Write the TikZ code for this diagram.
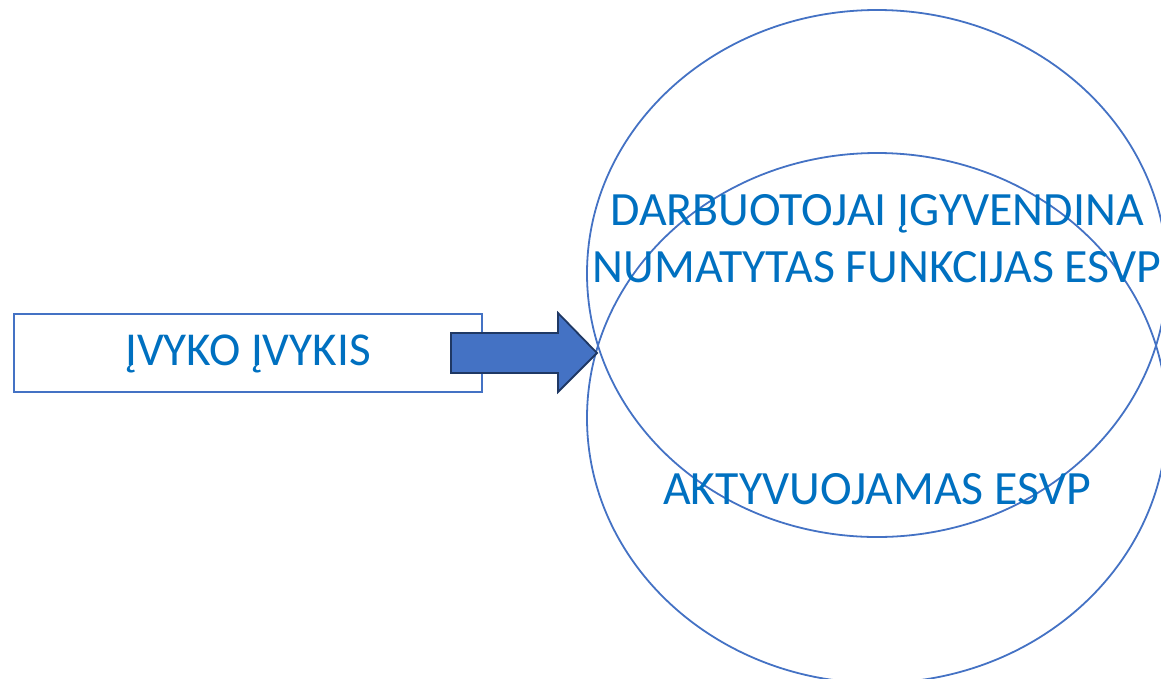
\documentclass[tikz,border=0pt]{standalone}
\usepackage{fontspec}
\setmainfont{Carlito}
\usepackage{tikz}

\definecolor{txtblue}{HTML}{0070C0}
\definecolor{lineblue}{HTML}{4472C4}
\definecolor{darkblue}{HTML}{1F3864}

\begin{document}
\begin{tikzpicture} [x=1pt, y=-1pt]

\useasboundingbox (0,0) rectangle (1161,678);

\tikzset{
  ring/.style={draw=lineblue, line width=1.8pt},
  label text/.style={text=txtblue, font=\fontsize{47.8}{56.7}\selectfont, align=center, anchor=base}
}

\coordinate (upper) at (877,273.5);
\coordinate (lower) at (877,418);

\draw [ring] (upper) ellipse [x radius=290pt, y radius=263.5pt];
\draw [ring] (lower) ellipse [x radius=290pt, y radius=265pt];

\node [draw=lineblue, line width=1.3pt, minimum width=468pt, minimum height=78pt,
       text height=30pt, text depth=6pt, inner sep=0pt, text=txtblue,
       font=\fontsize{47.2}{56}\selectfont] (event) at (248,353) {ĮVYKO ĮVYKIS};

% base of a two-line node sits on its last line
\node [label text] (staff) at (877,282) {DARBUOTOJAI ĮGYVENDINA\\NUMATYTAS FUNKCIJAS ESVP};
\node [label text] (active) at (877,504) {AKTYVUOJAMAS ESVP};

\coordinate (s1) at (451,333);
\coordinate (s2) at (558,333);
\coordinate (h1) at (558,313);
\coordinate (tip) at (597,353);
\coordinate (h2) at (558,392);
\coordinate (s3) at (558,373);
\coordinate (s4) at (451,373);

\draw [fill=lineblue, draw=darkblue, line width=1.8pt, line join=miter]
  (s1)--(s2)--(h1)--(tip)--(h2)--(s3)--(s4)--cycle;
\end{tikzpicture}
\end{document}
